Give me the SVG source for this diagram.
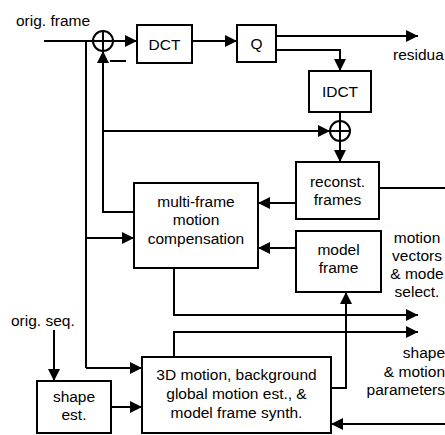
<svg xmlns="http://www.w3.org/2000/svg" width="445" height="435" viewBox="0 0 445 435">
<style>
.b{fill:#fff;stroke:#000;stroke-width:2}
.l{fill:none;stroke:#000;stroke-width:2}
.a{fill:none;stroke:#000;stroke-width:2;marker-end:url(#ah)}
text{font-family:"Liberation Sans",Arial,sans-serif;font-size:15.5px;fill:#000}
.c{text-anchor:middle}
.e{text-anchor:end}
</style>
<defs>
<marker id="ah" markerUnits="userSpaceOnUse" markerWidth="13" markerHeight="13" refX="12" refY="6" orient="auto">
<path d="M0,0 L12,6 L0,12 z" fill="#000"/>
</marker>
</defs>
<g id="connectors">
<path class="l" d="M44,41 H93"/>
<path class="a" d="M113,41 H137"/>
<path class="a" d="M192,41 H237"/>
<path class="a" d="M276,36 H418"/>
<path class="a" d="M276,50 H340 V71"/>
<path class="l" d="M340,112 V121"/>
<path class="a" d="M340,141 V162"/>
<path class="l" d="M86,41 V368"/>
<path class="a" d="M86,238 H134"/>
<path class="a" d="M86,368 H142"/>
<path class="a" d="M134,212 H103 V51"/>
<path class="l" d="M110,61 H126"/>
<path class="a" d="M103,131 H330"/>
<path class="l" d="M379,188 H445"/>
<path class="a" d="M296,203 H258"/>
<path class="a" d="M296,248 H258"/>
<path class="a" d="M174,268 V315 H418"/>
<path class="a" d="M174,357 V332 H418"/>
<path class="a" d="M331,388 H346 V292"/>
<path class="a" d="M445,424 H331"/>
<path class="a" d="M54,330 V381"/>
<path class="a" d="M111,407 H142"/>
</g>
<g id="adder1">
<circle class="b" cx="103" cy="41" r="10"/>
<path class="l" d="M93,41 H113 M103,31 V51"/>
</g>
<g id="adder2">
<circle class="b" cx="340" cy="131" r="10"/>
<path class="l" d="M330,131 H350 M340,121 V141"/>
</g>
<g id="dct">
<rect class="b" x="137" y="25" width="55" height="38"/>
<text class="c" x="164.5" y="50">DCT</text>
</g>
<g id="q">
<rect class="b" x="237" y="25" width="39" height="37"/>
<text class="c" x="256.5" y="49">Q</text>
</g>
<g id="idct">
<rect class="b" x="309" y="71" width="62" height="41"/>
<text class="c" x="340" y="97">IDCT</text>
</g>
<g id="reconst">
<rect class="b" x="296" y="162" width="83" height="57"/>
<text class="c" x="337.5" y="187">reconst.</text>
<text class="c" x="337.5" y="205">frames</text>
</g>
<g id="model">
<rect class="b" x="296" y="231" width="85" height="61"/>
<text class="c" x="338.5" y="255">model</text>
<text class="c" x="338.5" y="273">frame</text>
</g>
<g id="mc">
<rect class="b" x="134" y="183" width="124" height="85"/>
<text class="c" x="196" y="207">multi-frame</text>
<text class="c" x="196" y="225">motion</text>
<text class="c" x="196" y="244">compensation</text>
</g>
<g id="est3d">
<rect class="b" x="142" y="357" width="189" height="76"/>
<text class="c" x="236.5" y="380">3D motion, background</text>
<text class="c" x="236.5" y="399">global motion est., &amp;</text>
<text class="c" x="236.5" y="418">model frame synth.</text>
</g>
<g id="shape">
<rect class="b" x="37" y="381" width="74" height="52"/>
<text class="c" x="74" y="402">shape</text>
<text class="c" x="74" y="420">est.</text>
</g>
<g id="labels">
<text x="16" y="26">orig. frame</text>
<text x="393" y="60">residua</text>
<text x="11" y="326">orig. seq.</text>
<text class="c" x="417" y="243">motion</text>
<text class="c" x="417" y="261">vectors</text>
<text class="c" x="417" y="279">&amp; mode</text>
<text class="c" x="417" y="297">select.</text>
<text class="e" x="445" y="358">shape</text>
<text class="e" x="445" y="377">&amp; motion</text>
<text class="e" x="445" y="395">parameters</text>
</g>
</svg>
